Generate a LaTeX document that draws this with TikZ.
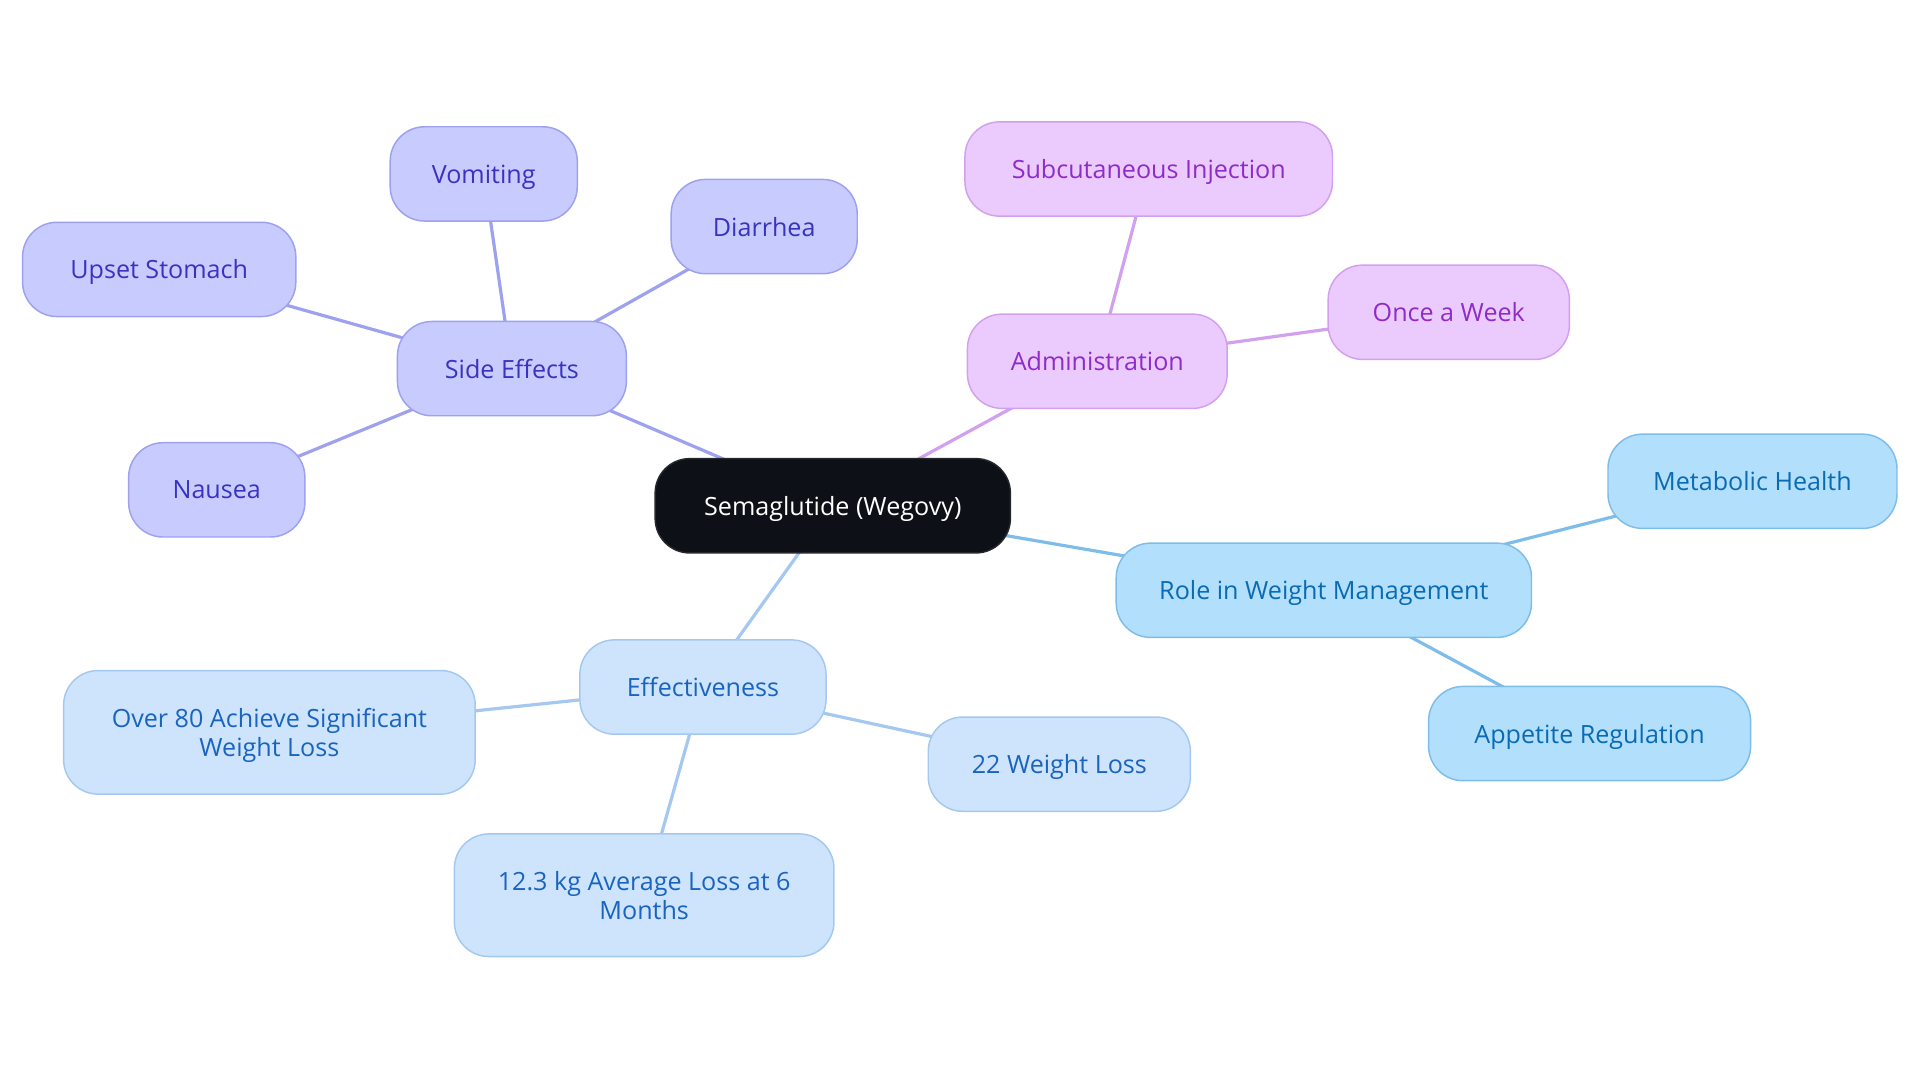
\documentclass[tikz,border=0pt]{standalone}
\usepackage{fontspec}
\setmainfont{Open Sans}
\usetikzlibrary{backgrounds}

\definecolor{rootfill}{HTML}{0D1117}
\definecolor{sidefill}{HTML}{C8CBFD}
\definecolor{sideline}{HTML}{9DA1EE}
\definecolor{sidetext}{HTML}{3A33C1}
\definecolor{adminfill}{HTML}{EBCBFD}
\definecolor{adminline}{HTML}{D2A0EE}
\definecolor{admintext}{HTML}{8E2BC9}
\definecolor{rolefill}{HTML}{B2DFFC}
\definecolor{roleline}{HTML}{7EBDEA}
\definecolor{roletext}{HTML}{0A6BB3}
\definecolor{efffill}{HTML}{CDE4FC}
\definecolor{effline}{HTML}{A4C8EF}
\definecolor{efftext}{HTML}{1A64BF}

\tikzset{
    topic/.style={minimum height=38.3pt, rounded corners=14pt, line width=0.6pt, font=\fontsize{10.2}{11.6}\selectfont, align=center, inner sep=0pt, text depth=0pt},
    rootbox/.style={topic, fill=rootfill, draw=rootfill!80!gray, text=white},
    sidebox/.style={topic, fill=sidefill, draw=sideline, text=sidetext},
    adminbox/.style={topic, fill=adminfill, draw=adminline, text=admintext},
    rolebox/.style={topic, fill=rolefill, draw=roleline, text=roletext},
    effbox/.style={topic, fill=efffill, draw=effline, text=efftext},
    link/.style={line width=1.3pt},
}

\begin{document}
\begin{tikzpicture}[x=0.4975pt, y=-0.4975pt]
    \useasboundingbox (0, 0) rectangle (1567.8, 884.4);

    \node[rootbox, minimum width=144.3pt] (root) at (680, 413) {Semaglutide (Wegovy)};

    \node[sidebox, minimum width=93pt] (side) at (418, 301) {Side Effects};
    \node[sidebox, minimum width=76pt] (vomit) at (395, 142) {Vomiting};
    \node[sidebox, minimum width=75.6pt] (diarr) at (624, 185) {Diarrhea};
    \node[sidebox, minimum width=111pt] (upset) at (130, 220) {Upset Stomach};
    \node[sidebox, minimum width=71.6pt] (nausea) at (177, 400) {Nausea};

    \node[adminbox, minimum width=105.5pt] (admin) at (896, 295) {Administration};
    \node[adminbox, minimum width=149.3pt] (inject) at (938, 138) {Subcutaneous Injection};
    \node[adminbox, minimum width=98pt] (weekly) at (1183, 255) {Once a Week};

    \node[rolebox, minimum width=168.7pt] (role) at (1081, 482) {Role in Weight Management};
    \node[rolebox, minimum width=117.4pt] (metab) at (1431, 393) {Metabolic Health};
    \node[rolebox, minimum width=130.8pt] (appet) at (1298, 599) {Appetite Regulation};

    \node[effbox, minimum width=100pt] (effect) at (574, 561) {Effectiveness};
    \node[effbox, minimum width=167.2pt, minimum height=50.2pt] (over80) at (220, 598) {Over 80 Achieve Significant\\Weight Loss};
    \node[effbox, minimum width=106.5pt] (loss22) at (865, 624) {22 Weight Loss};
    \node[effbox, minimum width=154.2pt, minimum height=49.8pt] (avgloss) at (526, 731) {12.3 kg Average Loss at 6\\Months};

    \begin{pgfonlayer}{background}
        \foreach \kid in {side, vomit, diarr, upset, nausea}
            \draw[link, sideline] (side.center) -- (\kid.center);
        \draw[link, sideline] (root.center) -- (side.center);

        \foreach \kid in {inject, weekly}
            \draw[link, adminline] (admin.center) -- (\kid.center);
        \draw[link, adminline] (root.center) -- (admin.center);

        \foreach \kid in {metab, appet}
            \draw[link, roleline] (role.center) -- (\kid.center);
        \draw[link, roleline] (root.center) -- (role.center);

        \foreach \kid in {over80, loss22, avgloss}
            \draw[link, effline] (effect.center) -- (\kid.center);
        \draw[link, effline] (root.center) -- (effect.center);
    \end{pgfonlayer}
\end{tikzpicture}
\end{document}
